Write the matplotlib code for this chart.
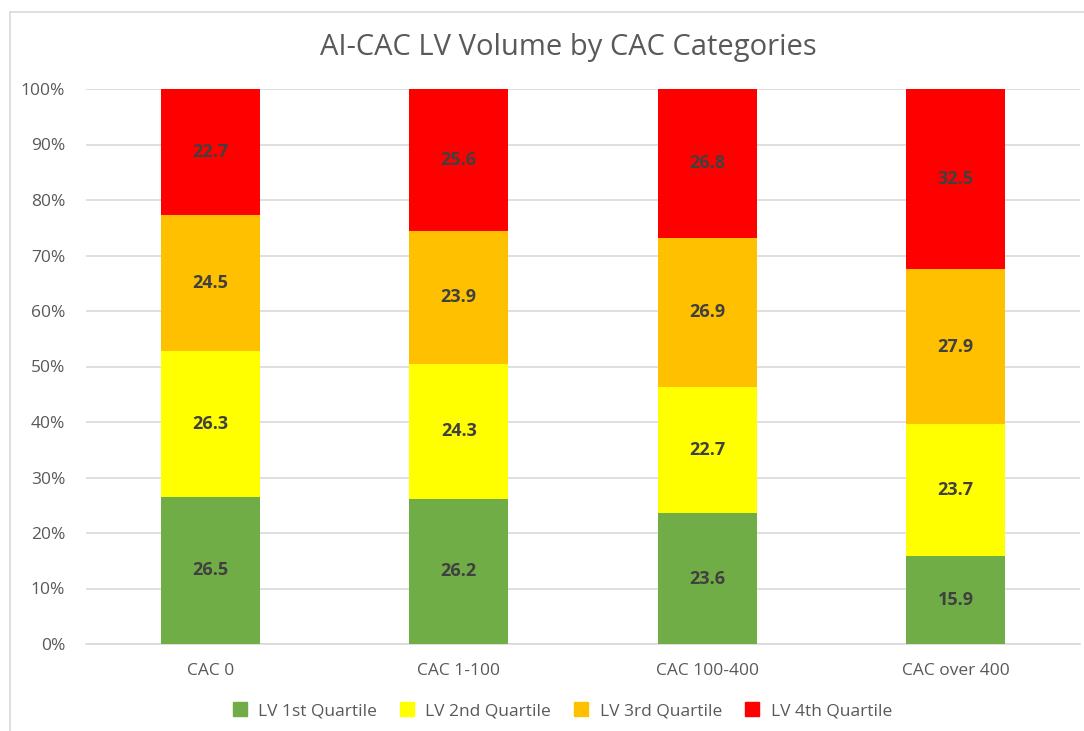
import matplotlib.pyplot as plt
from matplotlib.lines import Line2D
from matplotlib.ticker import PercentFormatter

plt.rcParams['font.family'] = ['Open Sans', 'DejaVu Sans']

# Datos
categorias = ['CAC 0', 'CAC 1-100', 'CAC 100-400', 'CAC over 400']
series = ['LV 1st Quartile', 'LV 2nd Quartile', 'LV 3rd Quartile', 'LV 4th Quartile']
q1 = [26.5, 26.2, 23.6, 15.9]
q2 = [26.3, 24.3, 22.7, 23.7]
q3 = [24.5, 23.9, 26.9, 27.9]
q4 = [22.7, 25.6, 26.8, 32.5]
colores = ['#70AD47', '#FFFF00', '#FFC000', '#FF0000']

W, H = 1084, 731
fig = plt.figure(figsize=(W / 100, H / 100), dpi=100)
ax = fig.add_axes([86 / W, 1 - 644 / H, (1080 - 86) / W, (644 - 89) / H])

gris = '#595959'
x = range(len(categorias))
base = [0] * len(categorias)
for nombre, valores, color in zip(series, [q1, q2, q3, q4], colores):
    barras = ax.bar(x, valores, bottom=base, width=0.4, color=color, label=nombre, zorder=3)
    for b, v, y0 in zip(barras, valores, base):
        ax.text(b.get_x() + b.get_width() / 2, y0 + v / 2, f"{v:.1f}", ha='center', va='center',
                fontsize=13, fontweight='bold', color='#404040', zorder=4)
    base = [a + v for a, v in zip(base, valores)]

ax.set_xlim(-0.5, len(categorias) - 0.5)
ax.set_ylim(0, 100)
ax.set_yticks(range(0, 101, 10))
ax.yaxis.set_major_formatter(PercentFormatter(decimals=0))
ax.set_xticks(list(x))
ax.set_xticklabels(categorias)
ax.tick_params(axis='both', length=0, labelsize=12.5, colors=gris)
ax.tick_params(axis='x', pad=14)
ax.tick_params(axis='y', pad=15)
ax.grid(axis='y', color='#D9D9D9', linewidth=1.2, zorder=0)
for s in ['top', 'right', 'left']:
    ax.spines[s].set_visible(False)
ax.spines['bottom'].set_color('#D9D9D9')
ax.spines['bottom'].set_linewidth(1.2)

fig.text(568 / W, 1 - 48 / H, 'AI-CAC LV Volume by CAC Categories', ha='center', va='center',
         fontsize=21, color=gris)

# Leyenda
manijas = [Line2D([], [], marker='s', linestyle='', markersize=10, color=c) for c in colores]
fig.legend(manijas, series, loc='center', bbox_to_anchor=(557 / W, 1 - 711 / H), ncol=4,
           frameon=False, fontsize=12.5, labelcolor=gris, handletextpad=0.05, columnspacing=0.75)

# Borde del grafico
fig.add_artist(Line2D([10 / W, 10 / W], [0, 1 - 12 / H], color='#D9D9D9', linewidth=1.2))
fig.add_artist(Line2D([10 / W, 1], [1 - 12 / H, 1 - 12 / H], color='#D9D9D9', linewidth=1.2))

fig.savefig('out.png', dpi=100)
